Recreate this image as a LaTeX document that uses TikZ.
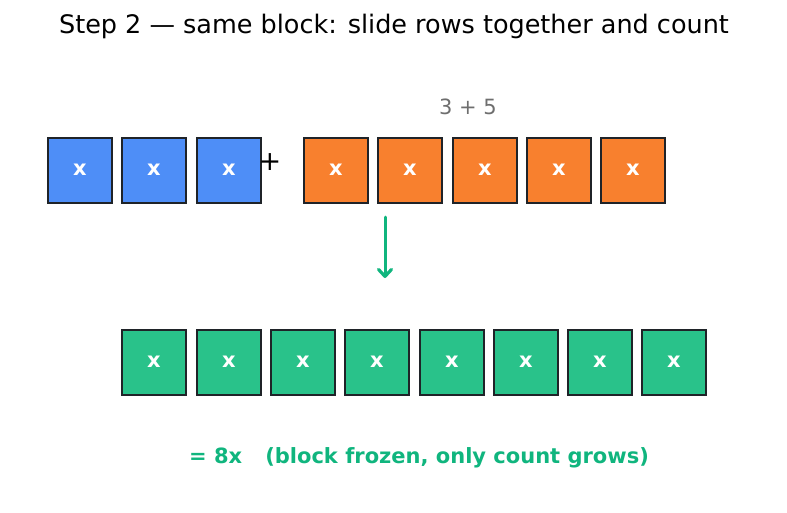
\documentclass[tikz,border=0pt]{standalone}
\usepackage{fontspec}
\setmainfont{DejaVu Sans}
\usetikzlibrary{arrows.meta}
\definecolor{bblue}{HTML}{4E8EF7}
\definecolor{borange}{HTML}{F8802E}
\definecolor{bgreen}{HTML}{29C28A}
\definecolor{tgreen}{HTML}{10B57E}
\definecolor{edgec}{HTML}{1F2328}
\definecolor{graytxt}{HTML}{6E6E6E}
\tikzset{
  xbox/.style={draw=edgec, line width=2pt, minimum width=64pt, minimum height=65pt, inner sep=0pt,
    text=white, font=\fontsize{21}{24}\selectfont\bfseries},
  bluebox/.style={xbox, fill=bblue},
  orangebox/.style={xbox, fill=borange},
  greenbox/.style={xbox, fill=bgreen},
}
\begin{document}
\begin{tikzpicture}[x=1pt,y=-1pt]
\useasboundingbox (0,0) rectangle (787,512);
\node (title) at (394,26) {\fontsize{25.5}{30}\selectfont Step 2 — same block: slide rows together and count};
\foreach \i/\x in {1/80,2/154,3/229}{
  \node[bluebox] (b\i) at (\x,170) {x};
}
\node (plus) at (270,162) {\fontsize{27}{32}\selectfont +};
\foreach \i/\x in {1/336,2/410,3/485,4/559,5/633}{
  \node[orangebox] (o\i) at (\x,170) {x};
}
\node[text=graytxt] (sum) at (468,107) {\fontsize{21}{25}\selectfont 3 + 5};
\foreach \i/\x in {1/154,2/229,3/303,4/377,5/452,6/526,7/600,8/674}{
  \node[greenbox] (g\i) at (\x,362) {x};
}
\coordinate (arrs) at (385,217);
\coordinate (arre) at (385,278);
\draw[tgreen, line width=3pt, line cap=round, -{Straight Barb[length=7pt,width=13pt,line width=3.2pt,round]}] (arrs) -- (arre);
\node[text=tgreen] (res) at (419,458) {\fontsize{21}{25}\selectfont\bfseries = 8x\hspace{1.1em}(block frozen, only count grows)};
\end{tikzpicture}
\end{document}
